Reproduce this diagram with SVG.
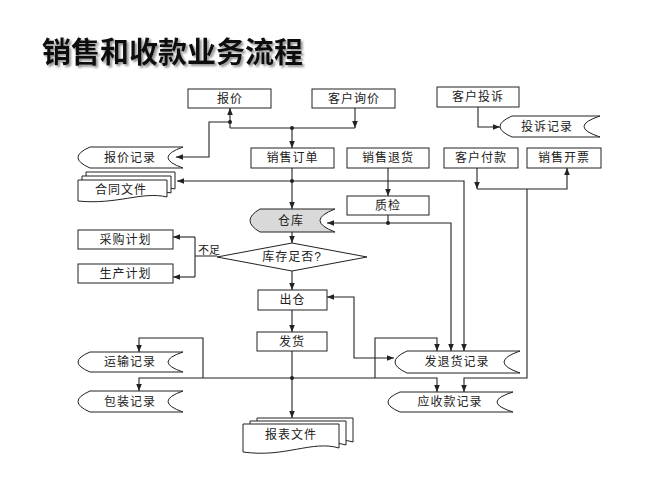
<svg xmlns="http://www.w3.org/2000/svg" width="667" height="500" viewBox="0 0 667 500">
<defs>
<style>
.n{fill:#fff;stroke:#222;stroke-width:1}
.g{fill:#d9d9d9;stroke:#222;stroke-width:1}
.t{font-family:"Liberation Sans","Noto Sans CJK SC",sans-serif;font-size:12px;fill:#222;text-anchor:middle;dominant-baseline:central;letter-spacing:1px}
.c{fill:none;stroke:#222;stroke-width:1.1}
.d{fill:#222}
.title{font-family:"Noto Sans CJK SC",sans-serif;font-size:29px;font-weight:bold;fill:#111}
</style>
<marker id="a" viewBox="0 0 10 10" refX="10" refY="5" markerWidth="7" markerHeight="7" markerUnits="userSpaceOnUse" orient="auto-start-reverse">
<path d="M0,1 L10,5 L0,9 Z" fill="#222"/>
</marker>
<filter id="sh" x="-5%" y="-20%" width="115%" height="150%">
<feDropShadow dx="2" dy="2" stdDeviation="1" flood-color="#777" flood-opacity="0.8"/>
</filter>
</defs>
<rect width="667" height="500" fill="#fff"/>
<text class="title" x="42" y="63" filter="url(#sh)">销售和收款业务流程</text>

<g id="connectors">
<path class="c" d="M230,128 V108" marker-end="url(#a)"/>
<path class="c" d="M355,108 V128" marker-end="url(#a)"/>
<path class="c" d="M230,128 H355"/>
<path class="c" d="M292,128 V148" marker-end="url(#a)"/>
<circle class="d" cx="292" cy="128" r="2"/>
<path class="c" d="M230,122 H209 V157 H176" marker-end="url(#a)"/>
<circle class="d" cx="230" cy="122" r="2"/>
<path class="c" d="M478,107 V127 H500" marker-end="url(#a)"/>
<path class="c" d="M292,168 V209" marker-end="url(#a)"/>
<circle class="d" cx="292" cy="181" r="2"/>
<path class="c" d="M292,181 H177" marker-end="url(#a)"/>
<path class="c" d="M292,181 H464 V351" marker-end="url(#a)"/>
<path class="c" d="M388,168 V196" marker-end="url(#a)"/>
<path class="c" d="M388,215 V223 H327" marker-end="url(#a)"/>
<circle class="d" cx="388" cy="223" r="2"/>
<path class="c" d="M388,223 H451 V351" marker-end="url(#a)"/>
<path class="c" d="M292,232 V243" marker-end="url(#a)"/>
<path class="c" d="M292,271 V290" marker-end="url(#a)"/>
<path class="c" d="M292,310 V332" marker-end="url(#a)"/>
<path class="c" d="M292,351 V418" marker-end="url(#a)"/>
<circle class="d" cx="292" cy="378" r="2"/>
<path class="c" d="M292,378 H139 V391" marker-end="url(#a)"/>
<path class="c" d="M203,378 V338 H139 V352" marker-end="url(#a)"/>
<path class="c" d="M292,378 H437 V392" marker-end="url(#a)"/>
<path class="c" d="M375,378 V338 H437 V351" marker-end="url(#a)"/>
<path class="c" d="M327,297 H354 V358 H394" marker-start="url(#a)" marker-end="url(#a)"/>
<path class="c" d="M477,168 V189" marker-end="url(#a)"/>
<path class="c" d="M477,189 H567 V168" marker-end="url(#a)"/>
<path class="c" d="M527,189 V378 H464 V392" marker-end="url(#a)"/>
<path class="c" d="M217,256 H195 M195,237 V277"/>
<path class="c" d="M195,237 H173" marker-end="url(#a)"/>
<path class="c" d="M195,277 H173" marker-end="url(#a)"/>
<text class="t" x="209" y="250" style="font-size:11px;letter-spacing:0">不足</text>
</g>

<g id="n-baojia"><rect class="n" x="188" y="89" width="83" height="19"/><text class="t" x="230" y="98.5">报价</text></g>
<g id="n-xunjia"><rect class="n" x="312" y="89" width="83" height="19"/><text class="t" x="354" y="98.5">客户询价</text></g>
<g id="n-tousu"><rect class="n" x="437" y="87" width="82" height="20"/><text class="t" x="478" y="97">客户投诉</text></g>
<g id="n-tousujilu"><path class="n" d="M512,116 H600 Q568,126.5 600,137 H512 Q488,126.5 512,116 Z"/><text class="t" x="547" y="126.5">投诉记录</text></g>
<g id="n-baojiajilu"><path class="n" d="M90,147 H183 Q153,157.5 183,168 H90 Q66,157.5 90,147 Z"/><text class="t" x="130" y="157.5">报价记录</text></g>
<g id="n-hetong">
<path class="n" d="M86,172 H175 V189 C150,183 125,197 86,193 Z"/>
<path class="n" d="M82,176 H171 V193 C146,187 121,201 82,197 Z"/>
<path class="n" d="M78,180 H167 V197 C142,191 117,205 78,201 Z"/>
<text class="t" x="121" y="190">合同文件</text></g>
<g id="n-dingdan"><rect class="n" x="251" y="148" width="83" height="20"/><text class="t" x="292.5" y="158">销售订单</text></g>
<g id="n-tuihuo"><rect class="n" x="347" y="148" width="82" height="20"/><text class="t" x="388" y="158">销售退货</text></g>
<g id="n-fukuan"><rect class="n" x="444" y="148" width="74" height="20"/><text class="t" x="481" y="158">客户付款</text></g>
<g id="n-kaipiao"><rect class="n" x="527" y="148" width="74" height="20"/><text class="t" x="564" y="158">销售开票</text></g>
<g id="n-zhijian"><rect class="n" x="347" y="196" width="82" height="19"/><text class="t" x="388" y="205.5">质检</text></g>
<g id="n-cangku"><path class="g" d="M260,209 H335 Q305,220.5 335,232 H260 Q240,220.5 260,209 Z"/><text class="t" x="291" y="220.5">仓库</text></g>
<g id="n-caigou"><rect class="n" x="78" y="230" width="95" height="19"/><text class="t" x="125.5" y="239.5">采购计划</text></g>
<g id="n-shengchan"><rect class="n" x="78" y="264" width="95" height="19"/><text class="t" x="125.5" y="273.5">生产计划</text></g>
<g id="n-kucun"><path class="n" d="M217,257 L292,243 L367,257 L292,271 Z"/><text class="t" x="292" y="257">库存足否?</text></g>
<g id="n-chucang"><rect class="n" x="258" y="290" width="69" height="20"/><text class="t" x="292.5" y="300">出仓</text></g>
<g id="n-fahuo"><rect class="n" x="257" y="332" width="70" height="19"/><text class="t" x="292" y="341.5">发货</text></g>
<g id="n-yunshu"><path class="n" d="M90,352 H183 Q153,362 183,372 H90 Q66,362 90,352 Z"/><text class="t" x="130" y="362">运输记录</text></g>
<g id="n-baozhuang"><path class="n" d="M90,391 H183 Q153,401.5 183,412 H90 Q66,401.5 90,391 Z"/><text class="t" x="130" y="401.5">包装记录</text></g>
<g id="n-baobiao">
<path class="n" d="M257,418 H353 V442 C326,434 299,452 257,446 Z"/>
<path class="n" d="M250,421 H346 V445 C319,437 292,455 250,449 Z"/>
<path class="n" d="M243,424 H339 V448 C312,440 285,458 243,452 Z"/>
<text class="t" x="291" y="435">报表文件</text></g>
<g id="n-fatuihuo"><path class="n" d="M407,351 H520 Q488,362 520,373 H407 Q383,362 407,351 Z"/><text class="t" x="457" y="362">发退货记录</text></g>
<g id="n-yingshou"><path class="n" d="M400,392 H513 Q481,402 513,412 H400 Q376,402 400,392 Z"/><text class="t" x="450" y="402">应收款记录</text></g>
</svg>
